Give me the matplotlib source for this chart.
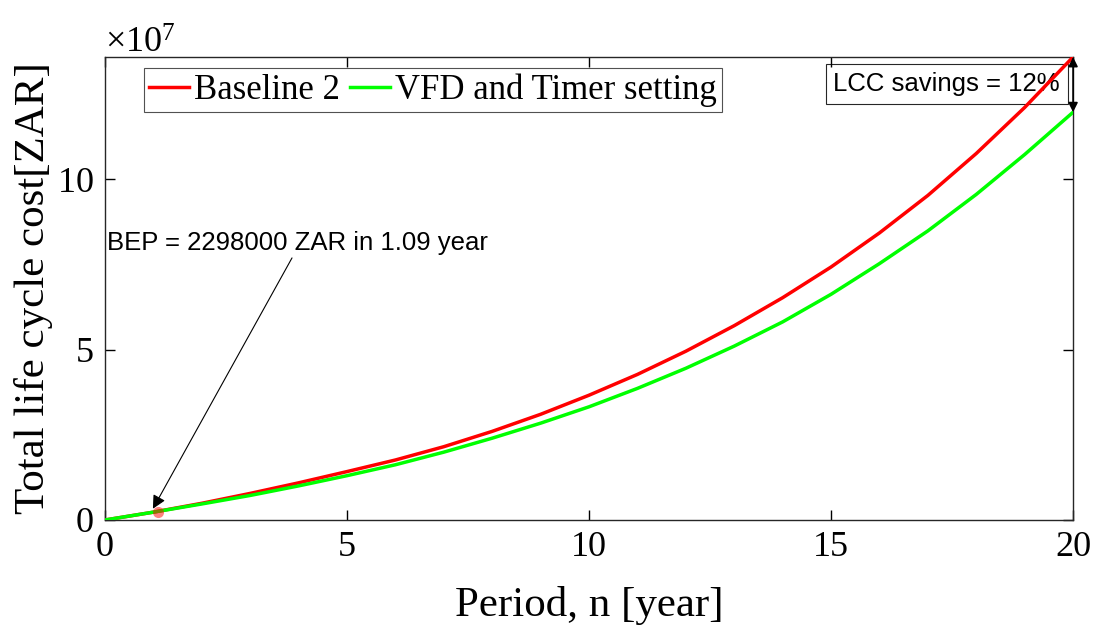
import matplotlib
matplotlib.use("Agg")
import matplotlib.pyplot as plt
from matplotlib.ticker import ScalarFormatter

plt.rcParams["font.family"] = ["Liberation Serif", "DejaVu Serif"]
plt.rcParams["mathtext.fontset"] = "custom"
plt.rcParams["mathtext.rm"] = "Liberation Serif"
plt.rcParams["mathtext.it"] = "Liberation Serif:italic"

# cumulative life cycle cost per year [ZAR]
years = list(range(21))
baseline_2 = [0.0, 0.23e7, 0.49e7, 0.78e7, 1.09e7, 1.42e7, 1.76e7, 2.15e7, 2.60e7,
              3.10e7, 3.66e7, 4.27e7, 4.95e7, 5.70e7, 6.52e7, 7.42e7, 8.42e7,
              9.52e7, 10.75e7, 12.10e7, 13.58e7]
vfd_timer = [0.0, 0.23e7, 0.47e7, 0.72e7, 1.00e7, 1.30e7, 1.62e7, 1.99e7, 2.40e7,
             2.84e7, 3.32e7, 3.86e7, 4.45e7, 5.10e7, 5.81e7, 6.62e7, 7.52e7,
             8.48e7, 9.55e7, 10.72e7, 11.96e7]

bep_year = 1.09
bep_cost = 2298000
savings_pct = 12

fig = plt.figure(figsize=(10.97, 6.29), dpi=100)
ax = fig.add_axes([0.0957, 0.1733, 0.8825, 0.7361])

ax.plot(years, baseline_2, color=(1, 0, 0), lw=2.5, label="Baseline 2", zorder=3)
ax.plot(years, vfd_timer, color=(0, 1, 0), lw=2.5, label="VFD and Timer setting", zorder=3)
ax.plot(bep_year, bep_cost, "o", color="red", ms=8, alpha=0.5, mec="none", zorder=4)

ax.set_xlim(0, 20)
ax.set_ylim(0, baseline_2[-1])
ax.set_xticks([0, 5, 10, 15, 20])
ax.set_yticks([0, 5e7, 10e7])

# fixed 10^7 multiplier on the y axis
fmt = ScalarFormatter(useMathText=True)
fmt.set_powerlimits((7, 7))
ax.yaxis.set_major_formatter(fmt)
ax.yaxis.get_offset_text().set_fontsize(26)
ax.yaxis.get_offset_text().set_x(0.0)

ax.tick_params(direction="in", top=True, right=True, length=7, width=1,
               labelsize=26, pad=8)
for s in ax.spines.values():
    s.set_linewidth(1.0)
    s.set_color("#262626")

ax.set_xlabel("Period, n [year]", fontsize=31, labelpad=16)
ax.set_ylabel("Total life cycle cost[ZAR]", fontsize=31, labelpad=3)

leg = ax.legend(loc="upper left", bbox_to_anchor=(0.04, 0.976), ncol=2,
                fontsize=25, frameon=True, fancybox=False, handlelength=1.15,
                handletextpad=0.15, columnspacing=0.3, borderpad=0.15,
                borderaxespad=0.0)
leg.get_frame().set_edgecolor("#262626")
leg.get_frame().set_linewidth(0.8)
leg.set_zorder(5)

# break-even point annotation
ax.annotate(f"BEP = {bep_cost} ZAR in {bep_year} year",
            xy=(bep_year - 0.1, bep_cost + 0.1e7), xytext=(0.04, 8.12e7),
            fontsize=18.5, family=["Liberation Sans"], va="center", ha="left",
            arrowprops=dict(arrowstyle="-|>", color="black", lw=0.8,
                            shrinkA=0, shrinkB=0, mutation_scale=20,
                            relpos=(0.49, 0.0)))

# savings between the two end values
ax.annotate("", xy=(20, vfd_timer[-1]), xytext=(20, baseline_2[-1]),
            arrowprops=dict(arrowstyle="<|-|>", color="black", lw=1.2,
                            shrinkA=0, shrinkB=0, mutation_scale=14),
            annotation_clip=False, zorder=6)
ax.text(19.73, 12.79e7, f"LCC savings = {savings_pct}%", fontsize=18.5,
        family=["Liberation Sans"], ha="right", va="center", zorder=1,
        bbox=dict(boxstyle="square,pad=0.3", fc="white", ec="#262626", lw=0.8))

fig.savefig("out.png", dpi=100)
